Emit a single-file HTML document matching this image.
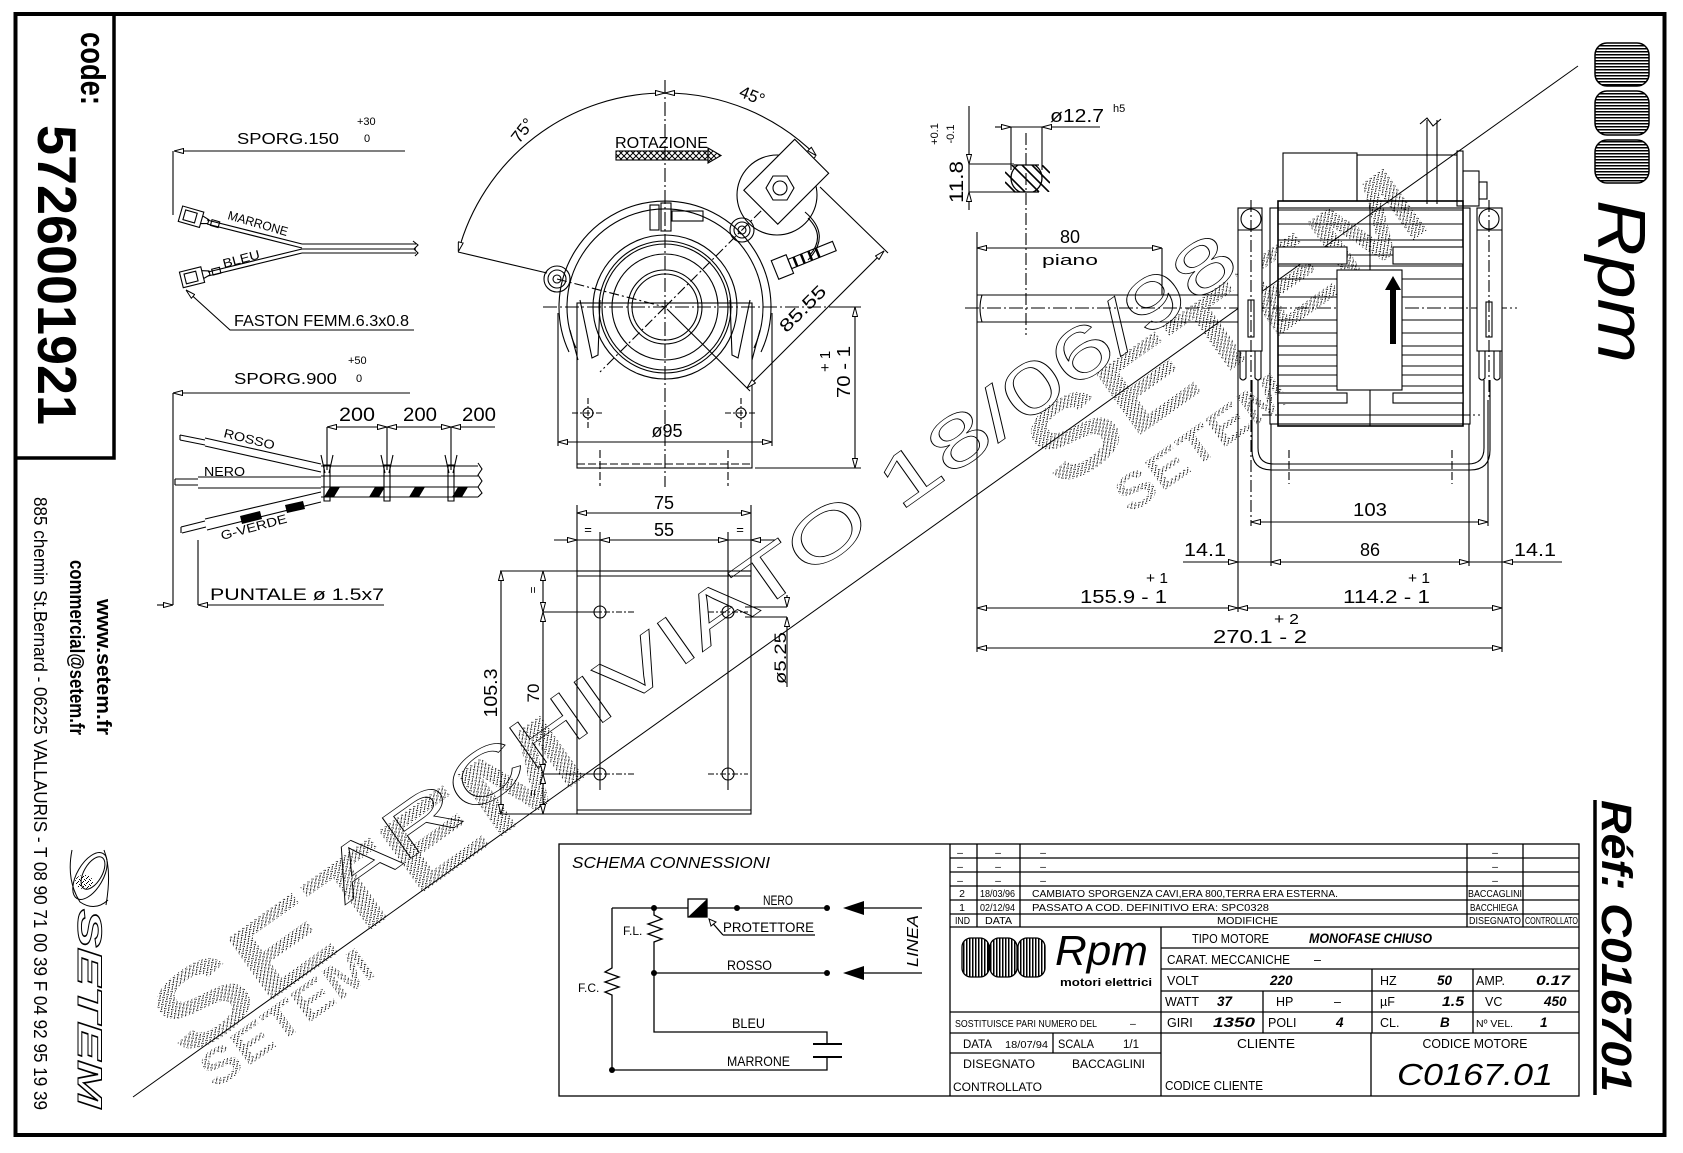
<!DOCTYPE html>
<html><head><meta charset="utf-8"><style>
html,body{margin:0;padding:0;background:#fff;}
svg{display:block;}
text{font-family:"Liberation Sans",sans-serif;}
</style></head><body>
<svg width="1683" height="1153" viewBox="0 0 1683 1153" xmlns="http://www.w3.org/2000/svg">
<defs>
<marker id="a" viewBox="0 0 10 6" refX="10" refY="3" markerWidth="10" markerHeight="6" markerUnits="userSpaceOnUse" orient="auto-start-reverse"><path d="M0.5,0.5 L10,3 L0.5,5.5 Z" fill="#fff" stroke="#000" stroke-width="1"/></marker>
<pattern id="st" width="5" height="5" patternUnits="userSpaceOnUse"><rect x="0" y="0" width="1" height="1" fill="#000"/><rect x="3" y="1" width="1" height="1" fill="#000"/><rect x="1" y="3" width="1" height="1" fill="#000"/><rect x="4" y="4" width="1" height="1" fill="#000"/><rect x="2" y="2" width="1" height="1" fill="#000"/></pattern>
<pattern id="hl" width="4" height="3" patternUnits="userSpaceOnUse"><rect width="4" height="1.5" fill="#000"/></pattern>
<pattern id="vl" width="3" height="4" patternUnits="userSpaceOnUse"><rect width="1.5" height="4" fill="#000"/></pattern>
<pattern id="xh" width="6" height="6" patternUnits="userSpaceOnUse"><path d="M0,0 L6,6 M6,0 L0,6" stroke="#000" stroke-width="1"/></pattern>
<clipPath id="flat"><rect x="1005" y="165" width="45" height="27"/></clipPath>
</defs>

<!-- watermark stipple -->
<g fill="url(#st)">
<text transform="translate(185,1062) rotate(-35.5)" font-size="110" font-weight="bold" textLength="500" lengthAdjust="spacingAndGlyphs">SETEM</text>
<text transform="translate(215,1090) rotate(-35.5)" font-size="50" font-weight="bold" textLength="200" lengthAdjust="spacingAndGlyphs">SETEM</text>
<text transform="translate(1060,492) rotate(-35.5)" font-size="110" font-weight="bold" textLength="460" lengthAdjust="spacingAndGlyphs">SETEM</text>
<text transform="translate(1130,515) rotate(-35.5)" font-size="50" font-weight="bold" textLength="200" lengthAdjust="spacingAndGlyphs">SETEM</text>
</g>
<text transform="translate(345,905) rotate(-35.3)" font-size="72" fill="none" stroke="#000" stroke-width="0.7" textLength="1100" lengthAdjust="spacingAndGlyphs">ARCHIVIATO 18/06/98</text>
<line x1="133" y1="1097" x2="1578" y2="66" stroke="#000" stroke-width="1"/>

<!-- border -->
<g fill="none" stroke="#000">
<rect x="15.5" y="14" width="1649" height="1121" stroke-width="4"/>
<path d="M114,14 V458 H15" stroke-width="3.5"/>
<line x1="1595" y1="800" x2="1595" y2="1095" stroke-width="3.5"/>
</g>

<!-- left panel text -->
<g fill="#000">
<text transform="translate(81,32) rotate(90)" font-size="34" font-weight="bold" textLength="73" lengthAdjust="spacingAndGlyphs">code:</text>
<text transform="translate(38,125) rotate(90)" font-size="55" font-weight="bold" textLength="300" lengthAdjust="spacingAndGlyphs">5726001921</text>
<text transform="translate(97,599) rotate(90)" font-size="20" font-weight="bold" textLength="136" lengthAdjust="spacingAndGlyphs">www.setem.fr</text>
<text transform="translate(70,560) rotate(90)" font-size="20" font-weight="bold" textLength="175" lengthAdjust="spacingAndGlyphs">commercial@setem.fr</text>
<text transform="translate(34,497) rotate(90)" font-size="18" textLength="613" lengthAdjust="spacingAndGlyphs">885 chemin St.Bernard  -  06225 VALLAURIS  -  T 08 90 71 00 39   F 04 92 95 19 39</text>
</g>
<text transform="translate(78,909) rotate(90)" font-size="34" font-weight="bold" font-style="italic" fill="none" stroke="#000" stroke-width="1" textLength="199" lengthAdjust="spacingAndGlyphs">SETEM</text>
<g fill="none" stroke="#000" stroke-width="1">
<ellipse cx="90" cy="876" rx="26" ry="13" transform="rotate(-60 90 876)"/>
<ellipse cx="93" cy="873" rx="18" ry="9" transform="rotate(-60 93 873)"/>
<path d="M72,850 Q66,880 80,902 Q95,912 108,900"/>
<path d="M104,850 Q112,870 106,905"/>
</g>
<ellipse cx="84" cy="882" rx="9" ry="7" fill="url(#st)"/>

<!-- right logos -->
<g stroke="#000" stroke-width="1.5">
<rect x="1595" y="43" width="54" height="43" rx="12" fill="url(#hl)"/>
<rect x="1595" y="91" width="54" height="44" rx="12" fill="url(#hl)"/>
<rect x="1595" y="140" width="54" height="43" rx="12" fill="url(#hl)"/>
</g>
<text transform="translate(1598,200) rotate(90)" font-family="Liberation Serif, serif" font-size="68" font-style="italic" textLength="163" lengthAdjust="spacingAndGlyphs">Rpm</text>
<text transform="translate(1602,800) rotate(90)" font-size="43" font-weight="bold" font-style="italic" textLength="292" lengthAdjust="spacingAndGlyphs">Réf:  C016701</text>

<!-- upper cable -->
<g fill="none" stroke="#000" stroke-width="1.1">
<line x1="174" y1="151" x2="405" y2="151" marker-start="url(#a)"/>
<line x1="173" y1="151" x2="173" y2="215"/>
<g transform="translate(192,217) rotate(16)"><rect x="-12" y="-8" width="22" height="16"/><rect x="-8" y="-5" width="12" height="10"/><path d="M10,-4 L17,-2 L17,2 L10,4"/><rect x="20" y="-3" width="8" height="6"/></g>
<path d="M207,220 L302,244 M207,224 L302,248"/>
<g transform="translate(193,277) rotate(-14)"><rect x="-12" y="-8" width="22" height="16"/><rect x="-8" y="-5" width="12" height="10"/><path d="M10,-4 L17,-2 L17,2 L10,4"/><rect x="20" y="-3" width="8" height="6"/></g>
<path d="M208,272 L302,249 M208,276 L302,253"/>
<path d="M302,244 H416 M302,249 H416 M302,253 H416 M413,241 l5,4 -4,4 4,4 -3,3"/>
<path d="M186,290 L230,330 H414" marker-start="url(#a)"/>
</g>
<g fill="#000" font-size="16">
<text x="237" y="144" textLength="102" lengthAdjust="spacingAndGlyphs">SPORG.150</text>
<text x="357" y="125" font-size="11">+30</text>
<text x="364" y="142" font-size="11">0</text>
<text transform="translate(227,219) rotate(16)" font-size="12.5" textLength="62" lengthAdjust="spacingAndGlyphs">MARRONE</text>
<text transform="translate(224,268) rotate(-15)" font-size="12.5" textLength="38" lengthAdjust="spacingAndGlyphs">BLEU</text>
<text x="234" y="326" textLength="175" lengthAdjust="spacingAndGlyphs">FASTON FEMM.6.3x0.8</text>
</g>

<!-- lower cable -->
<g fill="none" stroke="#000" stroke-width="1.1">
<line x1="173" y1="393" x2="410" y2="393" marker-start="url(#a)"/>
<line x1="173" y1="393" x2="173" y2="605"/>
<line x1="327" y1="427" x2="387" y2="427" marker-start="url(#a)" marker-end="url(#a)"/>
<line x1="387" y1="427" x2="451" y2="427" marker-start="url(#a)" marker-end="url(#a)"/>
<line x1="451" y1="427" x2="495" y2="427" marker-start="url(#a)"/>
<path d="M327,427 V470 M387,427 V470 M451,427 V470"/>
<path d="M321,455 l4,18 M333,455 l-4,18 M381,455 l4,18 M393,455 l-4,18 M445,455 l4,18 M457,455 l-4,18"/>
<path d="M324,465 h6 v36 h-6 z M384,465 h6 v36 h-6 z M448,465 h6 v36 h-6 z"/>
<path d="M180,435 L205,440 M180,440 L205,445 M180,435 V440 M205,438 L321,464 M205,446 L321,472"/>
<path d="M175,479 H198 M175,485 H198 M175,479 V485 M198,477 H321 M198,488 H321"/>
<path d="M181,527 L205,521 M182,533 L206,527 M181,527 V533 M205,519 L321,492 M207,530 L321,502"/>
<path d="M321,466 H478 M321,476 H478 M321,487 H478 M321,497 H478 M478,463 l4,6 -4,6 4,6 -4,6 4,6 -4,4"/>
<line x1="198" y1="540" x2="198" y2="605"/>
<line x1="157" y1="605" x2="173" y2="605" marker-end="url(#a)"/>
<line x1="198" y1="605" x2="384" y2="605" marker-start="url(#a)"/>
</g>
<g fill="#000">
<path d="M330,487 h10 l-6,10 h-10 z M375,487 h10 l-6,10 h-10 z M415,487 h10 l-6,10 h-10 z M458,487 h10 l-6,10 h-10 z"/>
<path d="M240,516 l20,-5 l2,8 l-20,5 z M285,505 l18,-4 l2,8 l-18,4 z"/>
<text x="234" y="384" font-size="16" textLength="103" lengthAdjust="spacingAndGlyphs">SPORG.900</text>
<text x="348" y="364" font-size="11">+50</text>
<text x="356" y="382" font-size="11">0</text>
<text x="339" y="421" font-size="19" textLength="36" lengthAdjust="spacingAndGlyphs">200</text>
<text x="403" y="421" font-size="19" textLength="34" lengthAdjust="spacingAndGlyphs">200</text>
<text x="462" y="421" font-size="19" textLength="34" lengthAdjust="spacingAndGlyphs">200</text>
<text transform="translate(223,437) rotate(14)" font-size="12.5" textLength="52" lengthAdjust="spacingAndGlyphs">ROSSO</text>
<text x="204" y="476" font-size="13" textLength="41" lengthAdjust="spacingAndGlyphs">NERO</text>
<text transform="translate(222,540) rotate(-15)" font-size="12.5" textLength="68" lengthAdjust="spacingAndGlyphs">G-VERDE</text>
<text x="210" y="600" font-size="17" textLength="174" lengthAdjust="spacingAndGlyphs">PUNTALE  ø 1.5x7</text>
</g>

<!-- front view -->
<g fill="none" stroke="#000" stroke-width="1.1">
<line x1="665" y1="80" x2="665" y2="487" stroke-dasharray="14 3 2 3"/>
<line x1="543" y1="307" x2="835" y2="307" stroke-dasharray="14 3 2 3"/>
<path d="M458.3,251.6 A214,214 0 0 1 665,93" marker-start="url(#a)" marker-end="url(#a)"/>
<path d="M665,93 A214,214 0 0 1 816.3,155.7" marker-start="url(#a)" marker-end="url(#a)"/>
<line x1="458" y1="252" x2="547" y2="273"/>
<line x1="557" y1="279" x2="665" y2="307" stroke-dasharray="10 3 2 3"/>
<line x1="665" y1="307" x2="816" y2="156" stroke-dasharray="10 3 2 3"/>
<line x1="665" y1="307" x2="600" y2="372" stroke-dasharray="10 3 2 3"/>
<circle cx="665" cy="307" r="33"/>
<circle cx="665" cy="307" r="37"/>
<circle cx="665" cy="307" r="53"/>
<circle cx="665" cy="307" r="63"/>
<circle cx="665" cy="307" r="66"/>
<circle cx="665" cy="307" r="72"/>
<path d="M569,352 A106,106 0 1 1 761,352"/>
<path d="M576,348 A98,98 0 1 1 754,348"/>
<path d="M580,300 L592,358 L598,355 L600,300 M750,300 L738,358 L732,355 L730,300"/>
<path d="M570,330 L578,360 M760,330 L752,360"/>
<rect x="650" y="205" width="9" height="25"/><rect x="661" y="203" width="10" height="28"/><rect x="672" y="211" width="31" height="10"/>
<path d="M558,313 V446 M772,313 V446"/>
<rect x="577" y="303" width="175" height="165"/>
<line x1="577" y1="464" x2="752" y2="464" stroke-dasharray="8 3"/>
<path d="M600,450 V486 M728,450 V486" stroke-dasharray="8 3"/>
<circle cx="588" cy="413" r="5"/><circle cx="741" cy="413" r="5"/>
<path d="M572,413 H604 M588,398 V428 M725,413 H757 M741,398 V428" stroke-dasharray="6 2 2 2"/>
<circle cx="557" cy="279" r="13"/><circle cx="557" cy="279" r="9"/><circle cx="557" cy="279" r="4"/>
<circle cx="742" cy="230" r="12"/><circle cx="742" cy="230" r="8"/><circle cx="742" cy="230" r="4"/>
<circle cx="777" cy="195" r="40"/>
<rect x="-24" y="-42" width="48" height="72" transform="translate(782,186) rotate(45)" fill="#fff"/>
<polygon points="794,188 787,200 773,200 766,188 773,176 787,176"/>
<circle cx="780" cy="188" r="7"/>
<path d="M805,212 Q832,235 808,260 M808,218 Q826,236 810,255"/>
<g transform="translate(775,270) rotate(-22)"><rect x="0" y="-10" width="16" height="20"/><rect x="16" y="-5" width="48" height="10"/><path d="M22,-5 V5 M30,-5 V5 M38,-5 V5 M46,-5 V5" stroke-width="2.5"/></g>
<line x1="820" y1="187" x2="888" y2="253"/>
<line x1="667" y1="309" x2="750" y2="391"/>
<line x1="884" y1="251" x2="747" y2="388" marker-start="url(#a)" marker-end="url(#a)"/>
<line x1="855" y1="307" x2="855" y2="468" marker-start="url(#a)" marker-end="url(#a)"/>
<path d="M833,307 H861 M755,468 H861"/>
<line x1="558" y1="442" x2="772" y2="442" marker-start="url(#a)" marker-end="url(#a)"/>
<rect x="616" y="151" width="92" height="9" fill="url(#xh)"/>
<path d="M708,148 L721,155.5 L708,163 Z" fill="url(#xh)"/>
</g>
<g fill="#000">
<text x="615" y="148" font-size="16" textLength="93" lengthAdjust="spacingAndGlyphs">ROTAZIONE</text>
<text transform="translate(527,134) rotate(-52)" font-size="17" text-anchor="middle">75°</text>
<text transform="translate(750,101) rotate(22)" font-size="17" text-anchor="middle">45°</text>
<text transform="translate(807,313) rotate(-45)" font-size="18" text-anchor="middle" textLength="58" lengthAdjust="spacingAndGlyphs">85.55</text>
<text transform="translate(850,398) rotate(-90)" font-size="18" textLength="52" lengthAdjust="spacingAndGlyphs">70 - 1</text>
<text transform="translate(830,372) rotate(-90)" font-size="15">+ 1</text>
<text x="667" y="437" font-size="18" text-anchor="middle">ø95</text>
</g>

<!-- bracket view -->
<g fill="none" stroke="#000" stroke-width="1.1">
<line x1="577" y1="513" x2="751" y2="513" marker-start="url(#a)" marker-end="url(#a)"/>
<path d="M577,505 V571 M751,505 V571 M600,532 V790 M728,532 V790"/>
<line x1="554" y1="540" x2="577" y2="540" marker-end="url(#a)"/>
<line x1="577" y1="540" x2="600" y2="540"/>
<line x1="600" y1="540" x2="728" y2="540" marker-start="url(#a)" marker-end="url(#a)"/>
<line x1="728" y1="540" x2="751" y2="540"/>
<line x1="751" y1="540" x2="775" y2="540" marker-start="url(#a)"/>
<rect x="577" y="571" width="174" height="243"/>
<path d="M577,576 H751 M577,810 H751"/>
<circle cx="600" cy="612" r="6"/><circle cx="728" cy="612" r="6"/><circle cx="600" cy="774" r="6"/><circle cx="728" cy="774" r="6"/>
<path d="M580,612 H634 M708,612 H748 M580,774 H634 M708,774 H748" stroke-dasharray="6 2 2 2"/>
<path d="M500,571 H577 M543,612 H600 M543,774 H600 M500,814 H577"/>
<line x1="501" y1="571" x2="501" y2="814" marker-start="url(#a)" marker-end="url(#a)"/>
<line x1="543" y1="571" x2="543" y2="612" marker-start="url(#a)" marker-end="url(#a)"/>
<line x1="543" y1="612" x2="543" y2="774" marker-start="url(#a)" marker-end="url(#a)"/>
<line x1="543" y1="774" x2="543" y2="814" marker-start="url(#a)" marker-end="url(#a)"/>
<path d="M745,607 H787 M745,617 H787"/>
<line x1="787" y1="595" x2="787" y2="607" marker-end="url(#a)"/>
<line x1="787" y1="617" x2="787" y2="687" marker-start="url(#a)"/>
</g>
<g fill="#000">
<text x="664" y="509" font-size="18" text-anchor="middle">75</text>
<text x="664" y="536" font-size="18" text-anchor="middle">55</text>
<text x="588" y="534" font-size="13" text-anchor="middle">=</text>
<text x="740" y="534" font-size="13" text-anchor="middle">=</text>
<text transform="translate(497,693) rotate(-90)" font-size="18" text-anchor="middle" textLength="49" lengthAdjust="spacingAndGlyphs">105.3</text>
<text transform="translate(539,693) rotate(-90)" font-size="17" text-anchor="middle">70</text>
<text transform="translate(537,590) rotate(-90)" font-size="12" text-anchor="middle">=</text>
<text transform="translate(537,793) rotate(-90)" font-size="12" text-anchor="middle">=</text>
<text transform="translate(786,658) rotate(-90)" font-size="17" text-anchor="middle" textLength="52" lengthAdjust="spacingAndGlyphs">ø5.25</text>
</g>

<!-- side view -->
<g fill="none" stroke="#000" stroke-width="1.1">
<line x1="995" y1="127" x2="1011" y2="127" marker-end="url(#a)"/>
<line x1="1011" y1="127" x2="1042" y2="127"/>
<line x1="1042" y1="127" x2="1100" y2="127" marker-start="url(#a)"/>
<path d="M1011,127 V170 M1042,127 V170"/>
<line x1="1026" y1="133" x2="1026" y2="335" stroke-dasharray="12 3 2 3"/>
<g clip-path="url(#flat)">
<circle cx="1026.5" cy="178" r="15.5" stroke-width="1.3"/>
<path d="M1005,172 L1025,192 M1005,182 L1015,192 M1012,165 L1039,192 M1022,165 L1049,192 M1032,165 L1050,183 M1042,165 L1050,173" stroke-width="1.6"/>
</g>
<path d="M1014,165 H1039 M1014,192 H1039" stroke-width="1.3"/>
<line x1="969" y1="106" x2="969" y2="164" marker-end="url(#a)"/>
<line x1="969" y1="164" x2="969" y2="192"/>
<line x1="969" y1="192" x2="969" y2="210" marker-start="url(#a)"/>
<path d="M969,164 H1014 M969,192 H1020"/>
<line x1="977" y1="248" x2="1162" y2="248" marker-start="url(#a)" marker-end="url(#a)"/>
<path d="M1162,248 V295 M977,232 V652"/>
<path d="M977,295 H1238 M977,322 H1238 M982,295 Q978,308 982,322"/>
<line x1="965" y1="308" x2="1517" y2="308" stroke-dasharray="14 3 2 3"/>
<rect x="1283" y="153" width="74" height="48"/>
<rect x="1357" y="155" width="100" height="46"/>
<rect x="1457" y="151" width="6" height="55"/>
<rect x="1463" y="171" width="16" height="35"/>
<rect x="1479" y="182" width="8" height="17"/>
<path d="M1427,204 V120 M1437,204 V120 M1420,124 l7,-6 l6,8 l8,-7"/>
<rect x="1270" y="208" width="200" height="216"/>
<rect x="1278" y="201" width="185" height="225" stroke-width="1.6"/>
<path d="M1278,210 H1463 M1278,224 H1463 M1278,240 H1463 M1278,255 H1463 M1278,266 H1463 M1278,279 H1463 M1278,297 H1463 M1278,320 H1463 M1278,333 H1463 M1278,346 H1463 M1278,355 H1463 M1278,366 H1463 M1278,375 H1463 M1278,386 H1463 M1278,415 H1463"/>
<rect x="1278" y="247" width="69" height="17" fill="#fff"/>
<rect x="1393" y="247" width="70" height="17" fill="#fff"/>
<rect x="1278" y="393" width="69" height="10" fill="#fff"/>
<rect x="1393" y="393" width="70" height="10" fill="#fff"/>
<line x1="1370" y1="204" x2="1370" y2="426"/>
<rect x="1337" y="270" width="65" height="120" fill="#fff"/>
<line x1="1262" y1="415" x2="1480" y2="415" stroke-dasharray="10 3 2 3"/>
<rect x="1238" y="208" width="24" height="143" fill="#fff"/>
<path d="M1238,230 H1262"/>
<circle cx="1251" cy="219" r="10"/>
<rect x="1248" y="300" width="6" height="37"/>
<path d="M1240,351 V378 Q1243,382 1246,378 V351 M1255,351 V378 Q1258,382 1261,378 V351"/>
<rect x="1477" y="208" width="25" height="143" fill="#fff"/>
<path d="M1477,230 H1502"/>
<circle cx="1489" cy="219" r="10"/>
<rect x="1486" y="302" width="6" height="35"/>
<path d="M1479,351 V378 Q1482,382 1485,378 V351 M1494,351 V378 Q1497,382 1500,378 V351"/>
<path d="M1251,200 V526 M1489,200 V400" stroke-dasharray="12 3 2 3"/>
<path d="M1252,380 V450 Q1252,470 1272,470 H1470 Q1490,470 1490,450 V380"/>
<path d="M1258,380 V448 Q1258,464 1274,464 H1468 Q1484,464 1484,448 V380"/>
<path d="M1289,450 V484 M1452,450 V484" stroke-dasharray="8 3"/>
<path d="M1238,351 V612 M1502,351 V652 M1271,424 V566 M1469,424 V566 M1488,400 V526"/>
<line x1="1251" y1="522" x2="1488" y2="522" marker-start="url(#a)" marker-end="url(#a)"/>
<line x1="1183" y1="562" x2="1238" y2="562" marker-end="url(#a)"/>
<line x1="1238" y1="562" x2="1271" y2="562"/>
<line x1="1271" y1="562" x2="1469" y2="562" marker-start="url(#a)" marker-end="url(#a)"/>
<line x1="1469" y1="562" x2="1503" y2="562"/>
<line x1="1503" y1="562" x2="1562" y2="562" marker-start="url(#a)"/>
<line x1="977" y1="608" x2="1238" y2="608" marker-start="url(#a)" marker-end="url(#a)"/>
<line x1="1238" y1="608" x2="1502" y2="608" marker-start="url(#a)" marker-end="url(#a)"/>
<line x1="977" y1="648" x2="1502" y2="648" marker-start="url(#a)" marker-end="url(#a)"/>
</g>
<path d="M1390,344 V290 H1385 L1393,276 L1401,290 H1396 V344 Z" fill="#000"/>
<g fill="#000">
<text x="1050" y="122" font-size="18" textLength="54" lengthAdjust="spacingAndGlyphs">ø12.7</text>
<text x="1113" y="112" font-size="11">h5</text>
<text transform="translate(963,182) rotate(-90)" font-size="19" text-anchor="middle" textLength="42" lengthAdjust="spacingAndGlyphs">11.8</text>
<text transform="translate(938,134) rotate(-90)" font-size="11" text-anchor="middle">+0.1</text>
<text transform="translate(954,134) rotate(-90)" font-size="11" text-anchor="middle">-0.1</text>
<text x="1070" y="243" font-size="18" text-anchor="middle">80</text>
<text x="1070" y="265" font-size="15" text-anchor="middle" textLength="56" lengthAdjust="spacingAndGlyphs">piano</text>
<text x="1370" y="516" font-size="18" text-anchor="middle" textLength="34" lengthAdjust="spacingAndGlyphs">103</text>
<text x="1370" y="556" font-size="18" text-anchor="middle">86</text>
<text x="1205" y="556" font-size="18" text-anchor="middle" textLength="42" lengthAdjust="spacingAndGlyphs">14.1</text>
<text x="1535" y="556" font-size="18" text-anchor="middle" textLength="42" lengthAdjust="spacingAndGlyphs">14.1</text>
<text x="1080" y="603" font-size="18" textLength="87" lengthAdjust="spacingAndGlyphs">155.9 - 1</text>
<text x="1146" y="583" font-size="15" textLength="22" lengthAdjust="spacingAndGlyphs">+ 1</text>
<text x="1343" y="603" font-size="18" textLength="87" lengthAdjust="spacingAndGlyphs">114.2 - 1</text>
<text x="1408" y="583" font-size="15" textLength="22" lengthAdjust="spacingAndGlyphs">+ 1</text>
<text x="1213" y="643" font-size="18" textLength="94" lengthAdjust="spacingAndGlyphs">270.1 - 2</text>
<text x="1274" y="624" font-size="15" textLength="25" lengthAdjust="spacingAndGlyphs">+ 2</text>
</g>

<!-- title block -->
<g fill="none" stroke="#000" stroke-width="1.3">
<rect x="559" y="844" width="1020" height="252"/>
<line x1="950" y1="844" x2="950" y2="1096"/>
<path d="M950,858 H1579 M950,872 H1579 M950,886 H1579 M950,900 H1579 M950,914 H1579 M950,927 H1579"/>
<path d="M977,844 V927 M1020,844 V927 M1467,844 V927 M1523,844 V927"/>
<path d="M1161,927 V1096"/>
<path d="M1161,948 H1579 M1161,969 H1579 M1161,991 H1579 M950,1012 H1579 M950,1033 H1579 M950,1053 H1161"/>
<path d="M1372,969 V1033 M1473,969 V1033 M1263,991 V1033 M1371,1033 V1096 M1053,1033 V1053"/>
</g>
<g stroke="#000" stroke-width="1.3">
<rect x="962" y="938" width="27" height="39" rx="9" fill="url(#vl)"/>
<rect x="990" y="938" width="27" height="39" rx="9" fill="url(#vl)"/>
<rect x="1018" y="938" width="27" height="39" rx="9" fill="url(#vl)"/>
</g>
<g fill="#000" font-size="10.5">
<text x="960" y="856" text-anchor="middle">–</text><text x="998" y="856" text-anchor="middle">–</text><text x="1043" y="856" text-anchor="middle">–</text><text x="1495" y="856" text-anchor="middle">–</text>
<text x="960" y="870" text-anchor="middle">–</text><text x="998" y="870" text-anchor="middle">–</text><text x="1043" y="870" text-anchor="middle">–</text><text x="1495" y="870" text-anchor="middle">–</text>
<text x="960" y="884" text-anchor="middle">–</text><text x="998" y="884" text-anchor="middle">–</text><text x="1043" y="884" text-anchor="middle">–</text><text x="1495" y="884" text-anchor="middle">–</text>
<text x="962" y="897" text-anchor="middle">2</text>
<text x="980" y="897" textLength="35" lengthAdjust="spacingAndGlyphs">18/03/96</text>
<text x="1032" y="897" textLength="306" lengthAdjust="spacingAndGlyphs">CAMBIATO SPORGENZA CAVI,ERA 800,TERRA ERA ESTERNA.</text>
<text x="1468" y="897" textLength="54" lengthAdjust="spacingAndGlyphs">BACCAGLINI</text>
<text x="962" y="911" text-anchor="middle">1</text>
<text x="980" y="911" textLength="35" lengthAdjust="spacingAndGlyphs">02/12/94</text>
<text x="1032" y="911" textLength="237" lengthAdjust="spacingAndGlyphs">PASSATO A COD. DEFINITIVO ERA: SPC0328</text>
<text x="1470" y="911" textLength="48" lengthAdjust="spacingAndGlyphs">BACCHIEGA</text>
<text x="955" y="924" textLength="15" lengthAdjust="spacingAndGlyphs">IND</text>
<text x="985" y="924" textLength="27" lengthAdjust="spacingAndGlyphs">DATA</text>
<text x="1217" y="924" textLength="61" lengthAdjust="spacingAndGlyphs">MODIFICHE</text>
<text x="1469" y="924" textLength="52" lengthAdjust="spacingAndGlyphs">DISEGNATO</text>
<text x="1525" y="924" textLength="53" lengthAdjust="spacingAndGlyphs">CONTROLLATO</text>
<text x="955" y="1027" textLength="142" lengthAdjust="spacingAndGlyphs">SOSTITUISCE PARI NUMERO DEL</text>
<text x="1130" y="1027">–</text>
<text x="963" y="1048" font-size="11.5">DATA</text>
<text x="1005" y="1048" textLength="43" lengthAdjust="spacingAndGlyphs">18/07/94</text>
<text x="1058" y="1048" font-size="11.5" textLength="36" lengthAdjust="spacingAndGlyphs">SCALA</text>
<text x="1123" y="1048" font-size="11.5">1/1</text>
<text x="963" y="1068" font-size="11.5" textLength="72" lengthAdjust="spacingAndGlyphs">DISEGNATO</text>
<text x="1072" y="1068" font-size="11.5" textLength="73" lengthAdjust="spacingAndGlyphs">BACCAGLINI</text>
<text x="953" y="1091" font-size="11.5" textLength="89" lengthAdjust="spacingAndGlyphs">CONTROLLATO</text>
<text x="1055" y="965" font-family="Liberation Serif, serif" font-style="italic" font-size="42" textLength="93" lengthAdjust="spacingAndGlyphs">Rpm</text>
<text x="1060" y="986" font-family="Liberation Mono, monospace" font-weight="bold" font-size="11" textLength="92" lengthAdjust="spacingAndGlyphs">motori elettrici</text>
<g font-size="12.5">
<text x="1192" y="943" textLength="77" lengthAdjust="spacingAndGlyphs">TIPO MOTORE</text>
<text x="1309" y="943" font-family="Liberation Serif, serif" font-style="italic" font-weight="bold" font-size="14" textLength="123" lengthAdjust="spacingAndGlyphs">MONOFASE CHIUSO</text>
<text x="1167" y="964" textLength="123" lengthAdjust="spacingAndGlyphs">CARAT. MECCANICHE</text>
<text x="1314" y="964">–</text>
<text x="1167" y="985">VOLT</text>
<text x="1270" y="985" font-style="italic" font-weight="bold" font-size="13.5">220</text>
<text x="1380" y="985">HZ</text>
<text x="1437" y="985" font-style="italic" font-weight="bold" font-size="13.5">50</text>
<text x="1476" y="985">AMP.</text>
<text x="1536" y="985" font-style="italic" font-weight="bold" font-size="13.5" textLength="34" lengthAdjust="spacingAndGlyphs">0.17</text>
<text x="1165" y="1006">WATT</text>
<text x="1217" y="1006" font-style="italic" font-weight="bold" font-size="13.5">37</text>
<text x="1276" y="1006">HP</text>
<text x="1334" y="1006">–</text>
<text x="1380" y="1006">µF</text>
<text x="1442" y="1006" font-style="italic" font-weight="bold" font-size="13.5" textLength="22" lengthAdjust="spacingAndGlyphs">1.5</text>
<text x="1485" y="1006">VC</text>
<text x="1544" y="1006" font-style="italic" font-weight="bold" font-size="13.5">450</text>
<text x="1167" y="1027">GIRI</text>
<text x="1213" y="1027" font-style="italic" font-weight="bold" font-size="13.5" textLength="42" lengthAdjust="spacingAndGlyphs">1350</text>
<text x="1268" y="1027">POLI</text>
<text x="1336" y="1027" font-style="italic" font-weight="bold" font-size="13.5">4</text>
<text x="1380" y="1027">CL.</text>
<text x="1440" y="1027" font-style="italic" font-weight="bold" font-size="13.5">B</text>
<text x="1476" y="1027" font-size="10.5">Nº VEL.</text>
<text x="1540" y="1027" font-style="italic" font-weight="bold" font-size="13.5">1</text>
<text x="1266" y="1048" text-anchor="middle" textLength="58" lengthAdjust="spacingAndGlyphs">CLIENTE</text>
<text x="1165" y="1090" textLength="98" lengthAdjust="spacingAndGlyphs">CODICE CLIENTE</text>
<text x="1475" y="1048" text-anchor="middle" textLength="105" lengthAdjust="spacingAndGlyphs">CODICE MOTORE</text>
</g>
<text x="1397" y="1085" font-size="31" font-style="italic" textLength="156" lengthAdjust="spacingAndGlyphs">C0167.01</text>
</g>

<!-- schema -->
<g fill="none" stroke="#000" stroke-width="1.3">
<path d="M612,908 H688 M707,908 H827"/>
<rect x="688" y="899" width="19" height="18" fill="#fff"/>
<path d="M612,908 V968 l-7,4 l14,5 l-14,5 l14,5 l-14,5 l7,3 V1070 H827 V1057"/>
<path d="M654,908 V915 l8,4 l-14,5 l14,5 l-14,5 l14,5 l-8,3 V1032 H827 V1044"/>
<path d="M654,973 H827"/>
<path d="M813,1044 H842 M813,1057 H842" stroke-width="2"/>
<path d="M862,908 H922 M862,973 H922"/>
<path d="M723,935 H815 M723,935 L709,919"/>
</g>
<g fill="#000">
<path d="M688,917 L707,899 V917 Z"/>
<path d="M709,919 l2,7 l5,-4 z" fill="#fff" stroke="#000"/>
<circle cx="654" cy="908" r="3"/><circle cx="737" cy="908" r="3"/><circle cx="827" cy="908" r="3"/>
<circle cx="654" cy="973" r="3"/><circle cx="827" cy="973" r="3"/><circle cx="612" cy="1070" r="3"/>
<path d="M843,908 L864,901 V915 Z M843,973 L864,966 V980 Z"/>
<text x="572" y="868" font-family="Liberation Serif, serif" font-style="italic" font-size="16" textLength="198" lengthAdjust="spacingAndGlyphs">SCHEMA CONNESSIONI</text>
<text x="763" y="905" font-size="14" textLength="30" lengthAdjust="spacingAndGlyphs">NERO</text>
<text x="723" y="932" font-size="14" textLength="91" lengthAdjust="spacingAndGlyphs">PROTETTORE</text>
<text x="727" y="970" font-size="14" textLength="45" lengthAdjust="spacingAndGlyphs">ROSSO</text>
<text x="732" y="1028" font-size="14" textLength="33" lengthAdjust="spacingAndGlyphs">BLEU</text>
<text x="727" y="1066" font-size="14" textLength="63" lengthAdjust="spacingAndGlyphs">MARRONE</text>
<text x="623" y="935" font-size="12">F.L.</text>
<text x="578" y="992" font-size="12">F.C.</text>
<text transform="translate(918,941) rotate(-90)" font-family="Liberation Serif, serif" font-style="italic" font-size="16" text-anchor="middle" textLength="52" lengthAdjust="spacingAndGlyphs">LINEA</text>
</g>
</svg>
</body></html>
